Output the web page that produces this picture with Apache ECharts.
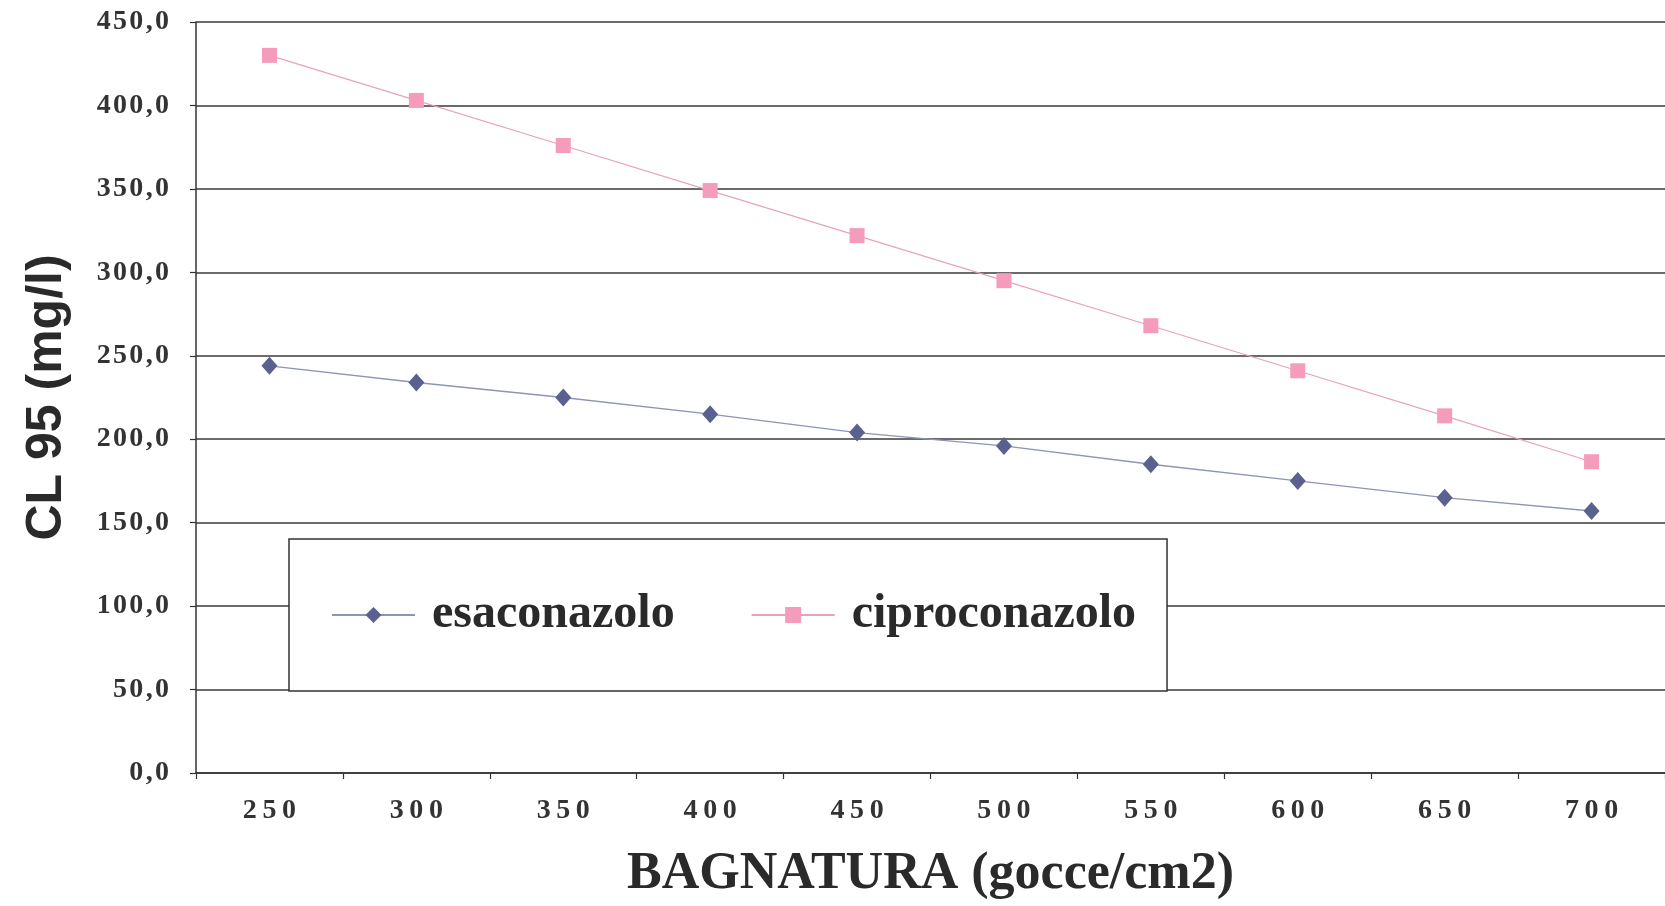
<!DOCTYPE html>
<html>
<head>
<meta charset="utf-8">
<script src="https://cdn.jsdelivr.net/npm/echarts@6/dist/echarts.min.js"></script>
<style>
html,body{margin:0;padding:0;background:#fff;}
#chart{width:1665px;height:906px;}
</style>
</head>
<body>
<div id="chart"></div>
<script>
const categories = ['250','300','350','400','450','500','550','600','650','700'];
const esaconazolo = [244, 234, 225, 215, 204, 196, 185, 175, 165, 157];
const ciproconazolo = [430, 403, 376, 349, 322, 295, 268, 241, 214, 186.5];
const seriesNames = ['esaconazolo', 'ciproconazolo'];
const xTitle = 'BAGNATURA (gocce/cm2)';
const yTitle = 'CL 95 (mg/l)';

const spacedY = s => String(s).split('').join('\u200A');
const spacedX = s => String(s).split('').join('\u2009');
const serif = '"Liberation Serif", "Times New Roman", serif';
const sans = '"Liberation Sans", Arial, sans-serif';

const chart = echarts.init(document.getElementById('chart'));
chart.setOption({
  animation: false,
  backgroundColor: '#ffffff',
  grid: { left: 196, top: 22, width: 1480, height: 753 },
  legend: {
    left: 289, top: 539,
    orient: 'horizontal',
    padding: [52, 31, 52, 42],
    itemWidth: 83, itemHeight: 20, itemGap: 76,
    backgroundColor: '#ffffff',
    borderColor: '#333333', borderWidth: 1.5,
    textStyle: { fontFamily: serif, fontWeight: 'bold', fontSize: 48, color: '#2a2a2a', padding: [0,0,0,12] },
    data: seriesNames
  },
  xAxis: {
    type: 'category',
    data: categories,
    boundaryGap: true,
    name: xTitle,
    nameLocation: 'middle',
    nameGap: 76,
    nameTextStyle: { fontFamily: serif, fontWeight: 'bold', fontSize: 52, color: '#2a2a2a' },
    axisLine: { show: true, lineStyle: { color: '#333333', width: 1.5 } },
    axisTick: { show: true, length: 6, lineStyle: { color: '#333333', width: 1.2 } },
    axisLabel: { margin: 24, fontFamily: serif, fontWeight: 'bold', fontSize: 28, color: '#333333', formatter: v => spacedX(v) },
    splitLine: { show: false }
  },
  yAxis: {
    type: 'value',
    min: 0, max: 450, interval: 50,
    name: yTitle,
    nameLocation: 'middle',
    nameGap: 124,
    nameRotate: 90,
    nameTextStyle: { fontFamily: sans, fontWeight: 'bold', fontSize: 50, color: '#2a2a2a' },
    axisLine: { show: true, lineStyle: { color: '#333333', width: 1.5 } },
    axisTick: { show: true, length: 6, lineStyle: { color: '#333333', width: 1.2 } },
    axisLabel: { margin: 27, fontFamily: serif, fontWeight: 'bold', fontSize: 28, color: '#333333',
      formatter: v => spacedY(v.toFixed(1).replace('.', ',')) },
    splitLine: { show: true, lineStyle: { color: '#3a3a3a', width: 1.5 } }
  },
  series: [
    {
      name: seriesNames[0], type: 'line', data: esaconazolo,
      symbol: 'diamond', symbolSize: [16, 18],
      itemStyle: { color: '#5a6190' },
      lineStyle: { color: '#8e94b4', width: 1.3 },
      z: 3
    },
    {
      name: seriesNames[1], type: 'line', data: ciproconazolo,
      symbol: 'rect', symbolSize: 15,
      itemStyle: { color: '#f59bbb' },
      lineStyle: { color: '#e8a3b9', width: 1.2 },
      z: 3
    }
  ]
});
</script>
</body>
</html>
